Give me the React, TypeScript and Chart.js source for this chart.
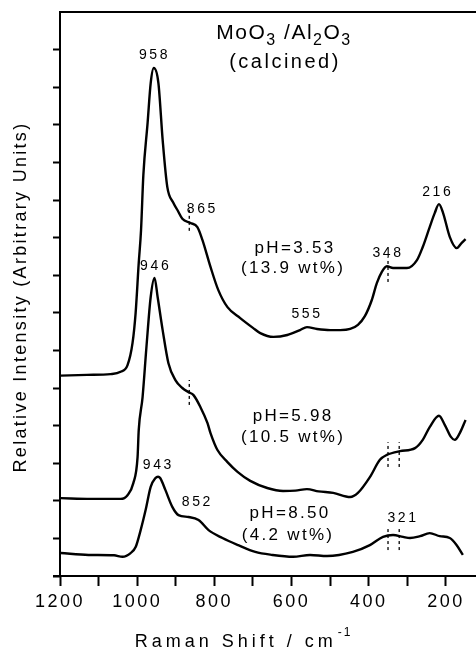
import React, { useEffect, useRef } from 'react';
import { Chart, registerables } from 'chart.js';

Chart.register(...registerables);

// Spectrum pH = 3.53 (13.9 wt%)
const shift353 = [1198, 1130, 1069, 1043, 1025, 1012, 1004, 996, 990, 984, 973, 965, 957, 945, 934, 922, 906, 895, 883, 862, 844, 831, 810, 790, 766, 733, 700, 681, 647, 611, 578, 560, 534, 500, 474, 448, 428, 410, 392, 379, 366, 353, 337, 301, 275, 260, 242, 229, 218, 208, 190, 172, 159, 149];
const intensity353 = [5.33, 5.35, 5.37, 5.43, 5.61, 6.2, 7.0, 8.32, 9.2, 10.66, 12.05, 13.11, 13.51, 13.11, 11.6, 10.35, 9.92, 9.72, 9.5, 9.39, 9.28, 8.94, 8.22, 7.61, 7.15, 6.86, 6.6, 6.46, 6.36, 6.41, 6.54, 6.62, 6.57, 6.54, 6.54, 6.57, 6.68, 6.91, 7.34, 7.79, 8.09, 8.24, 8.19, 8.19, 8.4, 8.75, 9.28, 9.65, 9.89, 9.68, 9.02, 8.72, 8.86, 8.96];

// Spectrum pH = 5.98 (10.5 wt%)
const shift598 = [1198, 1120, 1043, 1025, 1010, 999, 996, 986, 976, 965, 955, 947, 934, 919, 901, 883, 867, 854, 836, 818, 810, 792, 766, 740, 707, 663, 622, 590, 560, 530, 492, 448, 428, 397, 371, 353, 319, 280, 260, 242, 218, 203, 187, 177, 164, 149];
const intensity598 = [2.07, 2.05, 2.05, 2.15, 2.47, 3.16, 3.88, 4.76, 6.09, 7.42, 7.93, 7.42, 6.54, 5.66, 5.21, 5.0, 4.89, 4.81, 4.49, 4.07, 3.8, 3.35, 3.03, 2.77, 2.53, 2.34, 2.26, 2.27, 2.31, 2.25, 2.21, 2.1, 2.21, 2.63, 3.09, 3.22, 3.32, 3.4, 3.62, 3.96, 4.26, 4.02, 3.7, 3.62, 3.8, 4.15];

// Spectrum pH = 8.50 (4.2 wt%)
const shift850 = [1198, 1126, 1060, 1038, 1017, 1004, 991, 978, 965, 953, 946, 940, 927, 909, 893, 867, 841, 815, 779, 738, 694, 650, 596, 552, 508, 441, 397, 363, 337, 311, 293, 267, 242, 216, 190, 172, 156];
const intensity850 = [0.61, 0.56, 0.55, 0.51, 0.61, 0.77, 1.22, 1.76, 2.37, 2.6, 2.64, 2.6, 2.29, 1.84, 1.62, 1.57, 1.49, 1.22, 1.01, 0.82, 0.64, 0.56, 0.51, 0.56, 0.53, 0.64, 0.82, 1.04, 1.09, 1.04, 1.01, 1.06, 1.14, 1.06, 1.01, 0.82, 0.56];

// Dashed band markers
const markerShift = [865, 350, 865, 350, 321, 350, 321];
const markerLow = [9.18, 7.82, 4.55, 2.9, 2.9, 0.69, 0.69];
const markerHigh = [9.79, 8.48, 5.21, 3.56, 3.56, 1.28, 1.28];

// Peak labels
const peakLabels = ['958', '865', '555', '348', '216', '946', '943', '852', '321'];
const peakLabelShift = [955, 831, 560, 350, 221, 952, 945, 844, 311];
const peakLabelIntensity = [13.86, 9.76, 6.97, 8.59, 10.21, 8.24, 2.95, 1.97, 1.54];

// Sample labels
const sampleLabels = ['pH=3.53', '(13.9 wt%)', 'pH=5.98', '(10.5 wt%)', 'pH=8.50', '(4.2 wt%)'];
const sampleLabelShift = [591, 596, 596, 596, 604, 609];
const sampleLabelIntensity = [8.72, 8.19, 4.26, 3.7, 1.68, 1.09];

// Axes
const xTickValues = [1200, 1100, 1000, 900, 800, 700, 600, 500, 400, 300, 200];
const xLabelValues = [1200, 1000, 800, 600, 400, 200];
const yTickValues = [0, 1, 2, 3, 4, 5, 6, 7, 8, 9, 10, 11, 12, 13, 14];
const xTitle = 'Raman Shift / cm';
const xTitleSup = '-1';
const yTitle = 'Relative Intensity (Arbitrary Units)';
const titleParts = ['MoO', '3', ' /Al', '2', 'O', '3'];
const titleSub = [false, true, false, true, false, true];
const subtitle = '(calcined)';

const FONT = "'Liberation Sans', Arial, Helvetica, sans-serif";

const pts = (xs: number[], ys: number[]) => xs.map((x, i) => ({ x, y: ys[i] }));

const textPlugin = {
  id: 'textPlugin',
  beforeDraw(chart: any) {
    chart.ctx.letterSpacing = '2.5px';
  },
  afterDraw(chart: any) {
    const { ctx, chartArea, scales } = chart;
    const xs = scales.x;
    const ys = scales.y;
    ctx.save();
    ctx.fillStyle = '#000';
    ctx.strokeStyle = '#000';
    // frame
    ctx.lineWidth = 2;
    ctx.beginPath();
    ctx.moveTo(chartArea.left, chartArea.bottom);
    ctx.lineTo(chartArea.left, chartArea.top);
    ctx.lineTo(chartArea.right, chartArea.top);
    ctx.stroke();
    ctx.beginPath();
    ctx.moveTo(chartArea.left - 7, chartArea.bottom);
    ctx.lineTo(chartArea.right, chartArea.bottom);
    ctx.stroke();

    ctx.textAlign = 'center';
    ctx.textBaseline = 'middle';
    // peak labels
    ctx.font = `14px ${FONT}`;
    ctx.letterSpacing = '2.6px';
    peakLabels.forEach((t, i) => {
      ctx.fillText(t, xs.getPixelForValue(peakLabelShift[i]), ys.getPixelForValue(peakLabelIntensity[i]));
    });
    // sample labels
    ctx.font = `17px ${FONT}`;
    ctx.letterSpacing = '2.3px';
    sampleLabels.forEach((t, i) => {
      ctx.fillText(t, xs.getPixelForValue(sampleLabelShift[i]), ys.getPixelForValue(sampleLabelIntensity[i]));
    });

    // title
    ctx.textAlign = 'left';
    ctx.textBaseline = 'alphabetic';
    ctx.letterSpacing = '1.5px';
    const mainFont = `21px ${FONT}`;
    const subFont = `16px ${FONT}`;
    let total = 0;
    const widths = titleParts.map((p, i) => {
      ctx.font = titleSub[i] ? subFont : mainFont;
      const w = ctx.measureText(p).width;
      total += w;
      return w;
    });
    let tx = 284 - total / 2;
    titleParts.forEach((p, i) => {
      ctx.font = titleSub[i] ? subFont : mainFont;
      ctx.fillText(p, tx, titleSub[i] ? 45 : 39);
      tx += widths[i];
    });
    ctx.textAlign = 'center';
    ctx.textBaseline = 'middle';
    ctx.font = `20px ${FONT}`;
    ctx.letterSpacing = '2.5px';
    ctx.fillText(subtitle, 285, 62);

    // x title
    ctx.textAlign = 'left';
    ctx.textBaseline = 'alphabetic';
    ctx.font = `18px ${FONT}`;
    ctx.letterSpacing = '4px';
    const w1 = ctx.measureText(xTitle).width;
    ctx.font = `12px ${FONT}`;
    ctx.letterSpacing = '2px';
    const w2 = ctx.measureText(xTitleSup).width;
    const startX = 243 - (w1 + w2) / 2;
    ctx.font = `18px ${FONT}`;
    ctx.letterSpacing = '4px';
    ctx.fillText(xTitle, startX, 647);
    ctx.font = `12px ${FONT}`;
    ctx.letterSpacing = '2px';
    ctx.fillText(xTitleSup, startX + w1 + 1, 636);

    // y title
    ctx.translate(21, 297);
    ctx.rotate(-Math.PI / 2);
    ctx.textAlign = 'center';
    ctx.textBaseline = 'middle';
    ctx.font = `18px ${FONT}`;
    ctx.letterSpacing = '2.3px';
    ctx.fillText(yTitle, 0, 0);
    ctx.restore();
    ctx.letterSpacing = '0px';
  },
};

export default function App() {
  const canvasRef = useRef<HTMLCanvasElement | null>(null);

  useEffect(() => {
    if (!canvasRef.current) return;
    const spectrum = (xs: number[], ys: number[]) => ({
      data: pts(xs, ys),
      borderColor: '#000',
      borderWidth: 2.4,
      pointRadius: 0,
      cubicInterpolationMode: 'monotone',
      fill: false,
    });
    const markers = markerShift.map((s, i) => ({
      data: [
        { x: s, y: markerLow[i] },
        { x: s, y: markerHigh[i] },
      ],
      borderColor: '#000',
      borderWidth: 1.3,
      borderDash: [3, 3],
      pointRadius: 0,
      tension: 0,
      fill: false,
    }));
    const chart = new Chart(canvasRef.current, {
      type: 'line',
      data: {
        datasets: [
          spectrum(shift353, intensity353),
          spectrum(shift598, intensity598),
          spectrum(shift850, intensity850),
          ...markers,
        ] as any,
      },
      options: {
        responsive: false,
        animation: false,
        devicePixelRatio: 1,
        layout: { padding: { top: 12, left: 0, right: 0, bottom: 0 } },
        plugins: { legend: { display: false }, tooltip: { enabled: false } },
        scales: {
          x: {
            type: 'linear',
            reverse: true,
            min: 122,
            max: 1200,
            afterBuildTicks: (axis: any) => {
              axis.ticks = xTickValues.map((v) => ({ value: v }));
            },
            afterFit: (scale: any) => {
              scale.height = 75;
            },
            border: { display: false },
            grid: {
              drawOnChartArea: false,
              drawTicks: true,
              tickLength: 10,
              tickWidth: 2,
              tickColor: '#000',
            },
            ticks: {
              autoSkip: false,
              maxRotation: 0,
              padding: 5,
              color: '#000',
              font: { family: FONT, size: 18 },
              callback: (v: any) => (xLabelValues.includes(Number(v)) ? String(v) : ''),
            },
          },
          y: {
            type: 'linear',
            min: 0,
            max: 15,
            afterBuildTicks: (axis: any) => {
              axis.ticks = yTickValues.map((v) => ({ value: v }));
            },
            afterFit: (scale: any) => {
              scale.width = 60;
            },
            border: { display: false },
            grid: {
              drawOnChartArea: false,
              drawTicks: true,
              tickLength: 7,
              tickWidth: 2,
              tickColor: '#000',
            },
            ticks: {
              padding: 0,
              callback: () => '',
            },
          },
        },
      },
      plugins: [textPlugin],
    } as any);
    return () => chart.destroy();
  }, []);

  return (
    <div style={{ position: 'absolute', left: 0, top: 0, width: 476, height: 651, background: '#fff' }}>
      <canvas ref={canvasRef} width={476} height={651} style={{ display: 'block' }} />
    </div>
  );
}
